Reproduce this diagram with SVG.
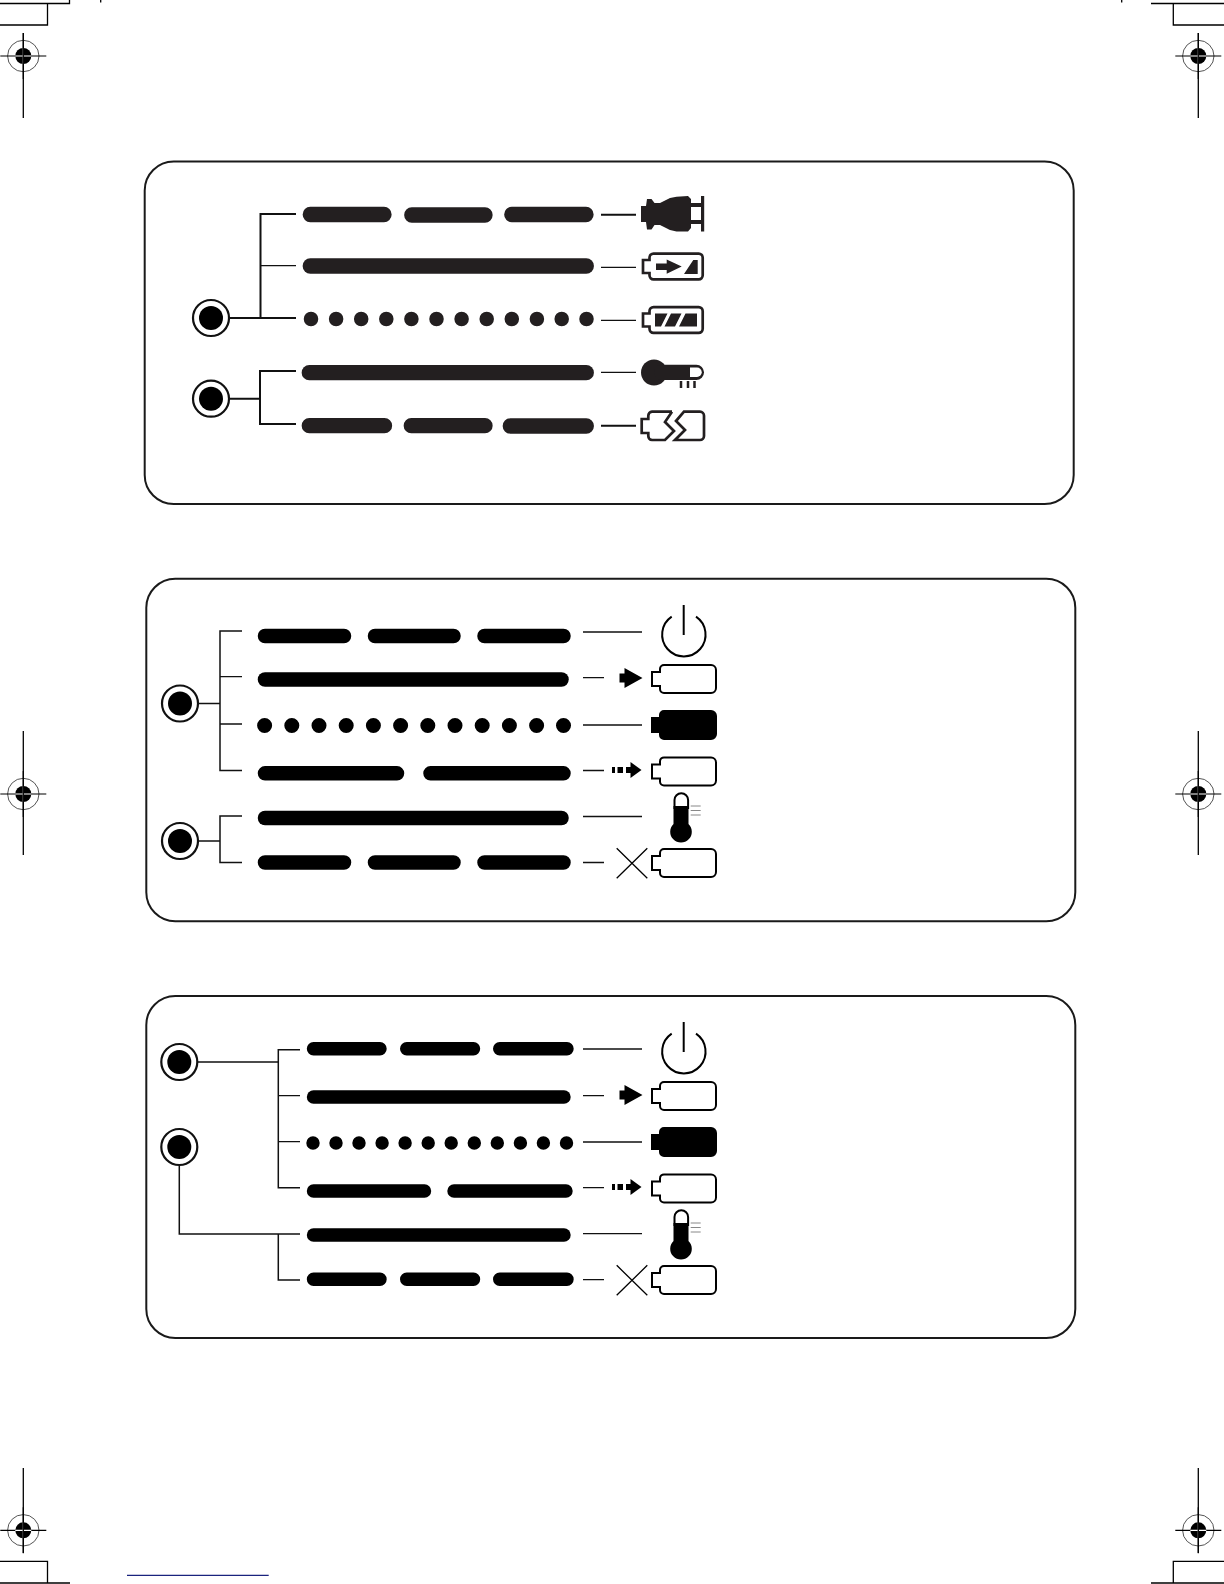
<svg xmlns="http://www.w3.org/2000/svg" width="1224" height="1584" viewBox="0 0 1224 1584">
<style>
.panel{fill:#fff;stroke:#1a1a1a;stroke-width:2}
.bar{stroke-linecap:round;fill:none}
.b1{stroke:#231f20;stroke-width:15.3}
.b2{stroke:#000;stroke-width:14.5}
.b3{stroke:#000;stroke-width:13.4}
.conn{fill:none;stroke:#111;stroke-width:2}
.thin{fill:none;stroke:#111;stroke-width:1.3}
.crop{fill:none;stroke:#000;stroke-width:1.3}
.bat{fill:#fff;stroke:#000;stroke-width:2}
.bat1{fill:#fff;stroke:#231f20;stroke-width:2.7}
.ink{fill:#231f20}
</style>
<defs>
<g id="led"><circle r="18" fill="#fff" stroke="#111" stroke-width="2.2"/><circle r="12" fill="#000"/></g>
<g id="reg"><circle r="15.7" fill="none" stroke="#555" stroke-width="1"/><circle r="8" fill="#000"/><path d="M-23 0H23M0-23V0M0 0V23" stroke="#000" stroke-width="1.2" fill="none"/><path d="M-8 0H8M0-8V8" stroke="#fff" stroke-width="1.2" fill="none"/></g>
<path id="battery" d="M-17 -14h47a5 5 0 0 1 5 5v18a5 5 0 0 1-5 5h-47a4 4 0 0 1-4-4v-3h-8v-14h8v-3a4 4 0 0 1 4-4z"/>
<path id="battery1" d="M-22 -12.850H23.200a4 4 0 0 1 4 4V8.850a4 4 0 0 1-4 4H-22a4 4 0 0 1-4-4V6.500H-32.500V-6.500H-26V-8.850a4 4 0 0 1 4-4z"/>
<g id="power"><path d="M671.700 616.700A21.700 21.700 0 1 0 696 616.700" fill="none" stroke="#000" stroke-width="2"/><path d="M683.700 605V635" stroke="#000" stroke-width="2"/></g>
<path id="arrowSolid" d="M619.500 673.500h5v-5.500l18 10-18 10v-5.500h-5z"/>
<path id="arrowDash" d="M612 767h3v6h-3zM617.500 767h5.500v6h-5.500zM626 767h4.500v-5l11 8-11 8v-5h-4.500z"/>
<g id="thermo"><path d="M674.500 808V800a6.800 6.800 0 0 1 13.600 0V808z" fill="#fff" stroke="#000" stroke-width="2"/><path d="M673.500 806h15v18a10.800 10.800 0 1 1-15 0z" fill="#000"/><path d="M690.700 806h10M690.700 810.500h10M690.700 815h10" stroke="#888" stroke-width="1"/></g>
<path id="cross" d="M616.700 848.300L647.300 878.300M647.300 848.300L616.700 878.300" stroke="#000" stroke-width="1.300" fill="none"/>
</defs>
<rect width="1224" height="1584" fill="#fff"/>

<g id="crop-marks">
<path class="crop" d="M0 3.500H69.500V0M47.500 3.500V25H0M100.700 0V2.500M1121.700 0V2.500M1151 3.500H1224M1173.300 3.500V25H1224M0 1561.300H47.500V1583H0M47.500 1583H70M1224 1561.300H1173.300V1583H1224M1173.300 1583H1151"/>
<path d="M127 1575.300H268.700" stroke="#1a237e" stroke-width="1.300" fill="none"/>
<use href="#reg" x="23.300" y="56"/><path class="crop" d="M23.300 33V118"/>
<use href="#reg" x="1198.300" y="56"/><path class="crop" d="M1198.300 33V118"/>
<use href="#reg" x="23.300" y="794"/><path class="crop" d="M23.300 731V855"/>
<use href="#reg" x="1198.300" y="794"/><path class="crop" d="M1198.300 731V855"/>
<use href="#reg" x="23.300" y="1530.300"/><path class="crop" d="M23.300 1468V1553"/>
<use href="#reg" x="1198.300" y="1530.300"/><path class="crop" d="M1198.300 1468V1553"/>
</g>

<g id="panels">
<rect id="panel-1" class="panel" x="144.700" y="161.500" width="929" height="342.500" rx="29"/>
<rect id="panel-2" class="panel" x="146.300" y="578.700" width="929" height="342.500" rx="29"/>
<rect id="panel-3" class="panel" x="146.300" y="996" width="929" height="342" rx="29"/>
</g>

<g id="connectors">
<path class="conn" d="M296 214H260.500V318M230 318H296M230 398.700H260M296 371H260V424H296"/>
<path class="thin" d="M260.500 265.700H296"/>
<path class="conn" d="M601 214.700H636"/><path class="thin" d="M601 267.300H636M601 320.300H636M601 372.300H636"/><path class="conn" d="M601 425.700H636"/>
<path class="conn" d="M242 631H220V770.500H242M198.500 703.500H220M198.500 841H220M242 816H220V862.500H242" style="stroke-width:1.500"/>
<path class="thin" d="M220 676.600H242M220 724H242"/>
<path class="thin" d="M583 632H642M583 677.600H604M583 725H642M583 770.500H604M583 816.500H642M583 862.500H604"/>
<path class="conn" d="M300 1049.700H278.300V1187.700H300M197.800 1062H278.300M179.300 1165.500V1234H300M278.300 1234V1280H300" style="stroke-width:1.500"/>
<path class="thin" d="M278.300 1095.700H300M278.300 1141.700H300"/>
<path class="thin" d="M583 1049H642M583 1095.700H604M583 1142H642M583 1187.700H604M583 1233.700H642M583 1279.700H604"/>
</g>

<g id="led-1a"><use href="#led" x="211" y="318"/></g>
<g id="led-1b"><use href="#led" x="211" y="398.700"/></g>
<g id="led-2a"><use href="#led" x="180" y="703.500"/></g>
<g id="led-2b"><use href="#led" x="180" y="841"/></g>
<g id="led-3a"><use href="#led" x="179.300" y="1062"/></g>
<g id="led-3b"><use href="#led" x="179.300" y="1147"/></g>

<g id="bars-1" class="bar b1">
<path d="M310.300 214.500H384M411.800 215H485M511.800 214.500H586"/>
<path d="M310.300 266H586.300"/>
<path d="M311 319H311.010M336.100 319H336.110M361.200 319H361.210M386.300 319H386.310M411.400 319H411.410M436.500 319H436.510M461.600 319H461.610M486.700 319H486.710M511.800 319H511.810M536.900 319H536.910M561.700 319H561.710M586.500 319H586.510" stroke-width="14.500"/>
<path d="M309.300 372.700H586.300"/>
<path d="M309.300 425.700H384.500M411.300 425.700H485M510.300 426H586.300"/>
</g>
<g id="bars-2" class="bar b2">
<path d="M265 636H344M375 636H453.500M484.500 636H563.500"/>
<path d="M265 679.500H561.500"/>
<path d="M264.600 725.500H264.610M291.800 725.500H291.810M319 725.500H319.010M346.200 725.500H346.210M373.400 725.500H373.410M400.600 725.500H400.610M427.800 725.500H427.810M455 725.500H455.010M482.200 725.500H482.210M509.400 725.500H509.410M536.600 725.500H536.610M563.500 725.500H563.510" stroke-width="15"/>
<path d="M265 773.300H397M430.500 773.300H563.500"/>
<path d="M265 818H561.500"/>
<path d="M265 862.500H344M375 862.500H453.500M484.500 862.500H563.500"/>
</g>
<g id="bars-3" class="bar b3">
<path d="M313.500 1048.800H380M406.700 1048.800H473.500M499.700 1048.800H567"/>
<path d="M313.500 1097H564"/>
<path d="M313 1143H313.010M336 1143H336.010M359 1143H359.010M382.100 1143H382.110M405.100 1143H405.110M428.200 1143H428.210M451.200 1143H451.210M474.300 1143H474.310M497.300 1143H497.310M520.400 1143H520.410M543.400 1143H543.410M566.500 1143H566.510"/>
<path d="M313.500 1191H424.500M454 1191H566"/>
<path d="M313.500 1235H564"/>
<path d="M313.500 1279.300H380M406.700 1279.300H473.500M499.700 1279.300H567"/>
</g>

<g id="icon-plug"><path class="ink" d="M641 206H646L647 199H651.500L654.500 203H660L670 198L676.500 196.700L688 196L691 199V203H701V196H704.200V231.500H701V224H691V228L688 231.500H676.500L670 230L660 225H654.500L651.500 229.500H647L646 222H641ZM691 207V220H701V207Z" fill-rule="evenodd"/></g>
<g id="icon-charging"><use href="#battery1" class="bat1" x="675.500" y="266.500"/><path class="ink" d="M656 263.500H666.700V259.500L681.700 266.500L666.700 273.700V270H656ZM684 274L693.300 260H697.700V274Z"/></g>
<g id="icon-full"><use href="#battery1" class="bat1" x="675.500" y="320"/><path class="ink" d="M655 313.500H667.500L661 326.500H655ZM671 313.500H681.500L675 326.500H664.500ZM685.500 313.500H697V326.500H679Z"/></g>
<g id="icon-temp"><circle class="ink" cx="654" cy="372.500" r="13"/><rect class="ink" x="654" y="364.700" width="50" height="15.300" rx="7.600"/><path d="M690 367.500H697a4.700 4.700 0 0 1 0 9.500H690Z" fill="#fff"/><path d="M681 381V388M688 381V388M694.500 381V388" stroke="#231f20" stroke-width="2.500"/></g>
<g id="icon-fault"><path fill="none" stroke="#231f20" stroke-width="2.700" stroke-linejoin="miter" d="M672 411.700H652A4 4 0 0 0 648.300 415.700V419H641.700V433H648.300V436A4 4 0 0 0 652 440H665L674 431L665 422L672 411.700M684 411.700H700A4 4 0 0 1 704 415.700V436A4 4 0 0 1 700 440H675L685 430L676 421L684 411.700Z"/></g>

<g id="icon-power-2"><use href="#power"/></g>
<g id="icon-arrow-2"><use href="#arrowSolid"/><use href="#battery" class="bat" x="681" y="679"/></g>
<g id="icon-full-2"><use href="#battery" fill="#000" stroke="#000" stroke-width="2" x="681" y="725"/></g>
<g id="icon-dash-2"><use href="#arrowDash"/><use href="#battery" class="bat" x="681" y="771.400"/></g>
<g id="icon-thermo-2"><use href="#thermo"/></g>
<g id="icon-fault-2"><use href="#cross"/><use href="#battery" class="bat" x="681" y="863"/></g>

<g id="icon-power-3"><use href="#power" y="417"/></g>
<g id="icon-arrow-3"><use href="#arrowSolid" y="417"/><use href="#battery" class="bat" x="681" y="1096"/></g>
<g id="icon-full-3"><use href="#battery" fill="#000" stroke="#000" stroke-width="2" x="681" y="1142"/></g>
<g id="icon-dash-3"><use href="#arrowDash" y="417"/><use href="#battery" class="bat" x="681" y="1188.400"/></g>
<g id="icon-thermo-3"><use href="#thermo" y="417"/></g>
<g id="icon-fault-3"><use href="#cross" y="417"/><use href="#battery" class="bat" x="681" y="1280"/></g>
</svg>
